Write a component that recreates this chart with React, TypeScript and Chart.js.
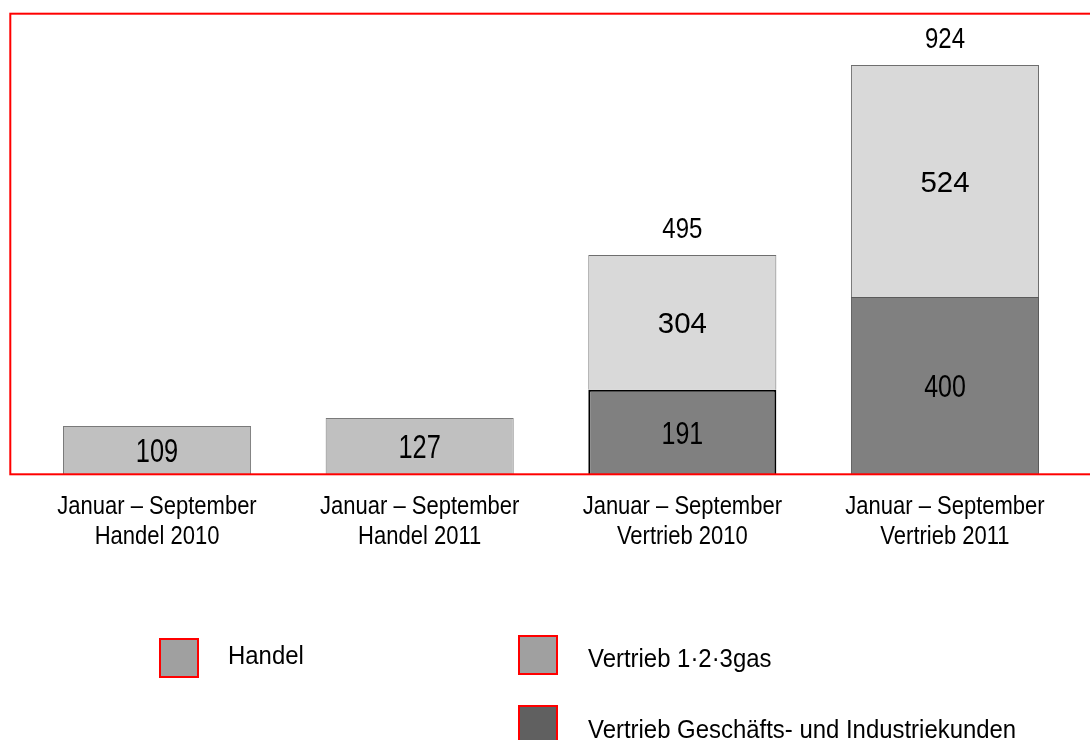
import React, { useEffect, useRef } from "react";
import { Chart, registerables } from "chart.js";
Chart.register(...registerables);

const categories: string[][] = [
  ["Januar – September", "Handel 2010"],
  ["Januar – September", "Handel 2011"],
  ["Januar – September", "Vertrieb 2010"],
  ["Januar – September", "Vertrieb 2011"],
];
const seriesNames = ["Handel", "Vertrieb 1·2·3gas", "Vertrieb Geschäfts- und Industriekunden"];
const handel: (number | null)[] = [109, 127, null, null];
const vertrieb123gas: (number | null)[] = [null, null, 304, 524];
const vertriebGI: (number | null)[] = [null, null, 191, 400];
const yMax = 1000;

const FONT = '"Liberation Sans", Arial, sans-serif';

function drawText(
  ctx: CanvasRenderingContext2D,
  s: string,
  x: number,
  y: number,
  size: number,
  sx: number,
  align: CanvasTextAlign
) {
  ctx.save();
  ctx.translate(x, y);
  ctx.scale(sx, 1);
  ctx.font = `${size}px ${FONT}`;
  ctx.fillStyle = "#000";
  ctx.textAlign = align;
  ctx.textBaseline = "alphabetic";
  ctx.fillText(s, 0, 0);
  ctx.restore();
}

// label style per dataset index (dataset order: GI, 123gas, Handel)
const segStyle = [
  { size: 32, sx: 0.78 },
  { size: 30, sx: 0.98 },
  { size: 33, sx: 0.77 },
];

const overlay = {
  id: "overlay",
  afterDatasetsDraw(chart: any) {
    const ctx: CanvasRenderingContext2D = chart.ctx;
    const x = chart.scales.x;
    const n = categories.length;

    // segment labels
    chart.data.datasets.forEach((ds: any, di: number) => {
      const meta = chart.getDatasetMeta(di);
      meta.data.forEach((el: any, i: number) => {
        const v = ds.data[i];
        if (v == null) return;
        const mid = (el.y + el.base) / 2;
        const st = segStyle[di];
        drawText(ctx, String(v), el.x, mid + st.size * 0.36, st.size, st.sx, "center");
      });
    });

    // totals above stacked bars
    for (let i = 0; i < n; i++) {
      let count = 0;
      let sum = 0;
      let top = Infinity;
      let cx = 0;
      chart.data.datasets.forEach((ds: any, di: number) => {
        const v = ds.data[i];
        if (v == null) return;
        count++;
        sum += v;
        const el = chart.getDatasetMeta(di).data[i];
        top = Math.min(top, el.y);
        cx = el.x;
      });
      if (count > 1) drawText(ctx, String(sum), cx, top - 17, 30, 0.8, "center");
    }

    // red frame
    ctx.save();
    ctx.strokeStyle = "#FF0000";
    ctx.lineWidth = 2;
    ctx.strokeRect(10.3, 13.7, 1100, 460.6);
    ctx.restore();

    // category labels
    categories.forEach((lines, i) => {
      const cx = x.getPixelForValue(i);
      lines.forEach((l, li) => {
        drawText(ctx, l, cx, 514 + li * 30, 25, 0.88, "center");
      });
    });

    // legend
    const legendItems = [
      { box: [160, 639], text: [228, 664], fill: "#A0A0A0" },
      { box: [519, 636], text: [588, 667], fill: "#A0A0A0" },
      { box: [519, 706], text: [588, 738], fill: "#606060" },
    ];
    legendItems.forEach((it, i) => {
      ctx.save();
      ctx.fillStyle = it.fill;
      ctx.fillRect(it.box[0], it.box[1], 38, 38);
      ctx.strokeStyle = "#FF0000";
      ctx.lineWidth = 2;
      ctx.strokeRect(it.box[0], it.box[1], 38, 38);
      ctx.restore();
      drawText(ctx, seriesNames[i], it.text[0], it.text[1], 26, 0.92, "left");
    });
  },
};

export default function App() {
  const ref = useRef<HTMLCanvasElement | null>(null);
  useEffect(() => {
    if (!ref.current) return;
    const chart = new Chart(ref.current, {
      type: "bar",
      data: {
        labels: categories.map((c) => c.join(" ")),
        datasets: [
          {
            label: seriesNames[2],
            data: vertriebGI,
            backgroundColor: "#808080",
            borderColor: ["#000", "#000", "#000", "#5a5a5a"],
            borderWidth: [1, 1, 2, 1],
            stack: "s",
          },
          {
            label: seriesNames[1],
            data: vertrieb123gas,
            backgroundColor: "#D9D9D9",
            borderColor: "#6e6e6e",
            borderWidth: 1,
            stack: "s",
          },
          {
            label: seriesNames[0],
            data: handel,
            backgroundColor: "#C0C0C0",
            borderColor: "#7a7a7a",
            borderWidth: 1,
            stack: "s",
          },
        ] as any,
      },
      options: {
        responsive: false,
        animation: false,
        devicePixelRatio: 1,
        layout: { padding: { left: 25.7, right: 13.7, top: 31.3, bottom: 265.7 } },
        datasets: { bar: { barPercentage: 0.716, categoryPercentage: 1 } },
        scales: {
          x: { display: false, stacked: true },
          y: { display: false, stacked: true, min: 0, max: yMax },
        },
        plugins: { legend: { display: false }, tooltip: { enabled: false } },
      } as any,
      plugins: [overlay],
    });
    return () => chart.destroy();
  }, []);
  return (
    <div style={{ position: "absolute", left: 0, top: 0, width: 1090, height: 740, background: "#fff" }}>
      <canvas ref={ref} width={1090} height={740} style={{ display: "block" }} />
    </div>
  );
}
